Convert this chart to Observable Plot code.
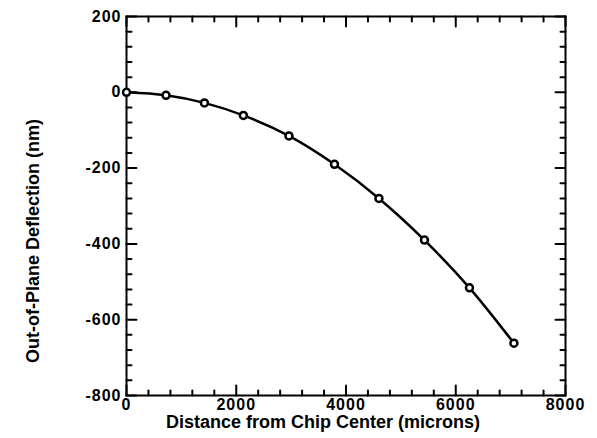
<!DOCTYPE html>
<html>
<head>
<meta charset="utf-8">
<script src="https://cdn.jsdelivr.net/npm/d3@7"></script>
<script src="https://cdn.jsdelivr.net/npm/@observablehq/plot@0.6"></script>
<style>
  html, body { margin: 0; padding: 0; background: #fff; }
  g[aria-label$="tick label"] text { letter-spacing: 1px; }
</style>
</head>
<body>
<div id="chart"></div>
<script>
// Data
const distance = [0, 720, 1420, 2130, 2960, 3790, 4600, 5430, 6250, 7060];
const deflection = [0, -8, -28, -61, -115, -190, -280, -390, -516, -662];

const xTicks = [0, 2000, 4000, 6000, 8000];
const yTicks = [-800, -600, -400, -200, 0, 200];
const xMinor = d3.range(0, 8001, 400).filter(v => v % 2000 !== 0);
const yMinor = d3.range(-800, 201, 40).filter(v => v % 200 !== 0);

const xLabel = "Distance from Chip Center (microns)";
const yLabel = "Out-of-Plane Deflection (nm)";

const points = distance.map((x, i) => ({x, y: deflection[i]}));

const tickShape = {draw(ctx, l) { ctx.moveTo(0, 0); ctx.lineTo(0, -l); }};
const tickOpts = {shape: tickShape, anchor: "start", stroke: "black", strokeWidth: 2};

const chart = Plot.plot({
  width: 597,
  height: 438,
  marginLeft: 126,
  marginRight: 32,
  marginTop: 16,
  marginBottom: 43,
  style: {fontFamily: "'Liberation Sans', Arial, sans-serif", fontWeight: "bold", fontSize: "16px", background: "white", color: "black"},
  x: {domain: [0, 8000]},
  y: {domain: [-800, 200]},
  marks: [
    Plot.axisX({ticks: xTicks, tickSize: 0, tickPadding: 3, tickFormat: d => String(d), label: null}),
    Plot.axisY({ticks: yTicks, tickSize: 0, tickPadding: 5, tickFormat: d => String(d), label: null}),
    // inward ticks
    Plot.vector(xTicks, {x: d => d, frameAnchor: "bottom", rotate: 0, length: 10, ...tickOpts}),
    Plot.vector(xMinor, {x: d => d, frameAnchor: "bottom", rotate: 0, length: 5, ...tickOpts}),
    Plot.vector(xTicks, {x: d => d, frameAnchor: "top", rotate: 180, length: 10, ...tickOpts}),
    Plot.vector(xMinor, {x: d => d, frameAnchor: "top", rotate: 180, length: 5, ...tickOpts}),
    Plot.vector(yTicks, {y: d => d, frameAnchor: "left", rotate: 90, length: 10, ...tickOpts}),
    Plot.vector(yMinor, {y: d => d, frameAnchor: "left", rotate: 90, length: 5, ...tickOpts}),
    Plot.vector(yTicks, {y: d => d, frameAnchor: "right", rotate: -90, length: 10, ...tickOpts}),
    Plot.vector(yMinor, {y: d => d, frameAnchor: "right", rotate: -90, length: 5, ...tickOpts}),
    Plot.frame({stroke: "black", strokeWidth: 2}),
    Plot.line(points, {x: "x", y: "y", stroke: "black", strokeWidth: 2.5, curve: "monotone-x"}),
    Plot.dot(points, {x: "x", y: "y", r: 3.5, stroke: "black", strokeWidth: 2.5, fill: "white"}),
    Plot.text([xLabel], {text: d => d, frameAnchor: "bottom", textAnchor: "middle", lineAnchor: "top", dx: -23, dy: 20, fontSize: 18, fontWeight: "bold"}),
    Plot.text([yLabel], {text: d => d, frameAnchor: "left", textAnchor: "middle", lineAnchor: "middle", rotate: -90, dx: -93, dy: 35, fontSize: 18, fontWeight: "bold"})
  ]
});
document.getElementById("chart").appendChild(chart);
</script>
</body>
</html>
